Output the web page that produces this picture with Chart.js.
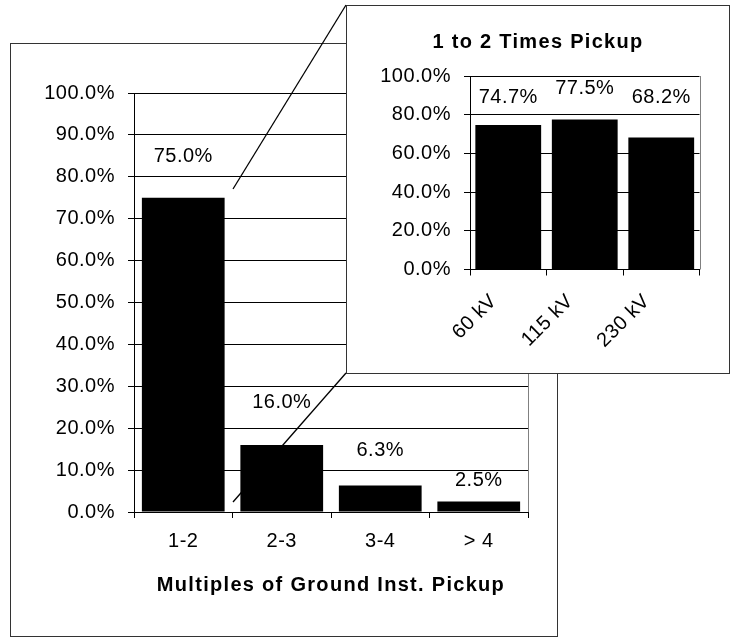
<!DOCTYPE html>
<html>
<head>
<meta charset="utf-8">
<script src="https://cdn.jsdelivr.net/npm/chart.js@4.4.0/dist/chart.umd.min.js"></script>
<style>
  html, body { margin: 0; padding: 0; background: #fff; width: 733px; height: 639px; overflow: hidden; }
  #main { position: absolute; left: 0; top: 0; }
  #inset { position: absolute; left: 346px; top: 5px; background: #fff; }
</style>
</head>
<body>
<canvas id="main" width="733" height="639"></canvas>
<canvas id="inset" width="384" height="369"></canvas>
<script>
// Share of ground instantaneous trips by multiple of pickup
const multipleLabels = ['1-2', '2-3', '3-4', '> 4'];
const multipleShares = [75.0, 16.0, 6.3, 2.5];
const mainTickValues = [0, 10, 20, 30, 40, 50, 60, 70, 80, 90, 100];

// Detail for the 1-2x band, by system voltage
const voltageLabels = ['60 kV', '115 kV', '230 kV'];
const voltageShares = [74.7, 77.5, 68.2];
const insetTickValues = [0, 20, 40, 60, 80, 100];

const FAMILY = "'Liberation Sans', Arial, sans-serif";
Chart.defaults.font.family = FAMILY;
Chart.defaults.font.size = 20;
Chart.defaults.color = '#000';

// Slightly open letter spacing, a bit wider for bold titles
function spacedText(canvas) {
  const ctx = canvas.getContext('2d');
  const apply = () => { ctx.letterSpacing = /bold/.test(ctx.font) ? '1.3px' : '0.5px'; };
  const fill = ctx.fillText, measure = ctx.measureText;
  ctx.fillText = function (...a) { apply(); return fill.apply(this, a); };
  ctx.measureText = function (...a) { apply(); return measure.apply(this, a); };
}

const pct = v => Number(v).toFixed(1) + '%';

// Value labels above each bar
const barValues = {
  id: 'barValues',
  afterDatasetsDraw(chart, args, opts) {
    const ctx = chart.ctx;
    const meta = chart.getDatasetMeta(0);
    const data = chart.data.datasets[0].data;
    ctx.save();
    ctx.font = '20px ' + FAMILY;
    ctx.fillStyle = '#000';
    ctx.textAlign = 'center';
    ctx.textBaseline = 'middle';
    meta.data.forEach((bar, i) => {
      ctx.fillText(pct(data[i]), bar.x, bar.y - opts.lift[i]);
    });
    ctx.restore();
  }
};

// Outer chart frame and right edge of the plot area
const frame = {
  id: 'frame',
  beforeDraw(chart, args, opts) {
    const ctx = chart.ctx;
    ctx.save();
    ctx.fillStyle = '#fff';
    ctx.fillRect(0, 0, chart.width, chart.height);
    ctx.restore();
  },
  afterDraw(chart, args, opts) {
    const ctx = chart.ctx;
    const a = chart.chartArea;
    ctx.save();
    ctx.lineWidth = 1;
    ctx.strokeStyle = '#808080';
    ctx.beginPath();
    ctx.moveTo(Math.round(a.right) + 0.5, a.top);
    ctx.lineTo(Math.round(a.right) + 0.5, a.bottom);
    ctx.stroke();
    ctx.strokeStyle = '#333';
    const b = opts.box;
    ctx.strokeRect(b[0] + 0.5, b[1] + 0.5, b[2] - b[0], b[3] - b[1]);
    ctx.restore();
  }
};

// Callout lines from the 1-2 bar to the detail panel
const callout = {
  id: 'callout',
  beforeDatasetsDraw(chart, args, opts) {
    drawSeg(chart.ctx, opts.lower);
  },
  afterDraw(chart, args, opts) {
    drawSeg(chart.ctx, opts.upper);
  }
};
function drawSeg(ctx, s) {
  ctx.save();
  ctx.strokeStyle = '#000';
  ctx.lineWidth = 1.3;
  ctx.beginPath();
  ctx.moveTo(s[0], s[1]);
  ctx.lineTo(s[2], s[3]);
  ctx.stroke();
  ctx.restore();
}

const mainCanvas = document.getElementById('main');
const insetCanvas = document.getElementById('inset');
spacedText(mainCanvas);
spacedText(insetCanvas);

new Chart(mainCanvas, {
  type: 'bar',
  data: {
    labels: multipleLabels,
    datasets: [{
      data: multipleShares,
      backgroundColor: '#000',
      borderWidth: 0,
      categoryPercentage: 0.84,
      barPercentage: 1
    }]
  },
  options: {
    responsive: false,
    animation: false,
    layout: { padding: { left: 10, top: 93, right: 205, bottom: 0 } },
    plugins: {
      legend: { display: false },
      tooltip: { enabled: false },
      barValues: { lift: [41, 42, 35, 21] },
      frame: { box: [10, 43, 557, 636] },
      callout: { upper: [233, 189, 346, 5], lower: [233, 502, 346, 373] }
    },
    scales: {
      x: {
        grid: { drawOnChartArea: false, drawTicks: true, tickLength: 6, color: '#000', offset: true },
        border: { color: '#000' },
        ticks: { padding: 11, autoSkip: false, maxRotation: 0 },
        title: {
          display: true,
          text: 'Multiples of Ground Inst. Pickup',
          font: { weight: 'bold', size: 20 },
          padding: { top: 0, bottom: 42 }
        },
        afterFit(s) { s.height = 127; }
      },
      y: {
        min: 0, max: 100,
        grid: { color: '#000', tickLength: 6 },
        border: { color: '#000' },
        ticks: { padding: 13, callback: v => pct(v) },
        afterBuildTicks(s) { s.ticks = mainTickValues.map(v => ({ value: v })); },
        afterFit(s) { s.width = 124; }
      }
    }
  },
  plugins: [frame, callout, barValues]
});

new Chart(insetCanvas, {
  type: 'bar',
  data: {
    labels: voltageLabels,
    datasets: [{
      data: voltageShares,
      backgroundColor: '#000',
      borderWidth: 0,
      categoryPercentage: 0.86,
      barPercentage: 1
    }]
  },
  options: {
    responsive: false,
    animation: false,
    layout: { padding: { left: 30.5, top: 0, right: 30.5, bottom: 0 } },
    plugins: {
      legend: { display: false },
      tooltip: { enabled: false },
      title: {
        display: true,
        text: '1 to 2 Times Pickup',
        font: { weight: 'bold', size: 20 },
        padding: { top: 25, bottom: 22 }
      },
      barValues: { lift: [27, 31.5, 40.5] },
      frame: { box: [0, 0, 383, 368] }
    },
    scales: {
      x: {
        grid: { drawOnChartArea: false, drawTicks: true, tickLength: 6, color: '#000', offset: true },
        border: { color: '#000' },
        ticks: { padding: 14, labelOffset: -14.5, autoSkip: false, minRotation: 45, maxRotation: 45 },
        afterFit(s) { s.height = 104.5; }
      },
      y: {
        min: 0, max: 100,
        grid: { color: '#000', tickLength: 6 },
        border: { color: '#000' },
        ticks: { padding: 13, callback: v => pct(v) },
        afterBuildTicks(s) { s.ticks = insetTickValues.map(v => ({ value: v })); },
        afterFit(s) { s.width = 93.5; }
      }
    }
  },
  plugins: [frame, barValues]
});
</script>
</body>
</html>
